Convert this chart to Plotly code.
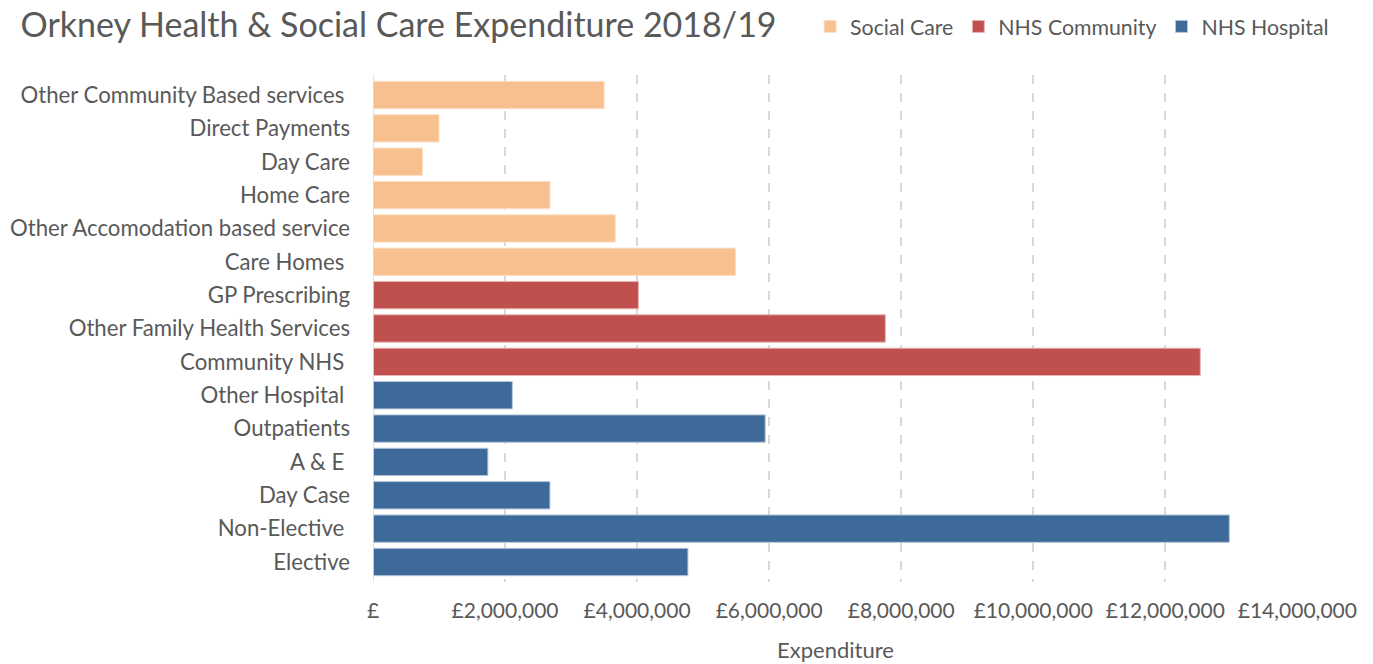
import plotly.graph_objects as go

order_bottom_to_top = ["Elective", "Non-Elective ", "Day Case", "A & E ", "Outpatients", "Other Hospital ",
                       "Community NHS ", "Other Family Health Services", "GP Prescribing",
                       "Care Homes ", "Other Accomodation based service", "Home Care", "Day Care",
                       "Direct Payments", "Other Community Based services "]

hosp_cats = ["Elective", "Non-Elective ", "Day Case", "A & E ", "Outpatients", "Other Hospital "]
hosp_vals = [4770000, 12970000, 2680000, 1740000, 5940000, 2110000]

comm_cats = ["Community NHS ", "Other Family Health Services", "GP Prescribing"]
comm_vals = [12530000, 7760000, 4020000]

soc_cats = ["Care Homes ", "Other Accomodation based service", "Home Care", "Day Care",
            "Direct Payments", "Other Community Based services "]
soc_vals = [5490000, 3670000, 2680000, 750000, 1000000, 3500000]

tick_vals = [0, 2000000, 4000000, 6000000, 8000000, 10000000, 12000000, 14000000]
tick_text = ["£", "£2,000,000", "£4,000,000", "£6,000,000", "£8,000,000", "£10,000,000", "£12,000,000", "£14,000,000"]

FONT = "Lato"
GREY = "#595959"

fig = go.Figure()
fig.add_trace(go.Bar(y=soc_cats, x=soc_vals, orientation="h", name="Social Care",
                     marker=dict(color="#F9C08F", line=dict(color="#FBE0C8", width=1))))
fig.add_trace(go.Bar(y=comm_cats, x=comm_vals, orientation="h", name="NHS Community",
                     marker=dict(color="#C0504D", line=dict(color="#E6B4B3", width=1))))
fig.add_trace(go.Bar(y=hosp_cats, x=hosp_vals, orientation="h", name="NHS Hospital",
                     marker=dict(color="#3E6A9A", line=dict(color="#B5C6DA", width=1))))

fig.update_layout(
    width=1373, height=664,
    margin=dict(l=373, r=75, t=75, b=82),
    paper_bgcolor="white", plot_bgcolor="white",
    barmode="relative", bargap=0.18,
    font=dict(family=FONT, color=GREY, size=21),
    title=dict(text="Orkney Health & Social Care Expenditure 2018/19",
               x=0.015, xanchor="left", y=0.962, yanchor="middle",
               font=dict(family=FONT, size=34, color=GREY)),
    legend=dict(orientation="h", xref="container", yref="container",
                x=0.590, xanchor="left", y=0.96, yanchor="middle",
                font=dict(family=FONT, size=21.3, color=GREY),
                traceorder="normal", itemwidth=30),
    showlegend=True,
)
fig.update_xaxes(range=[0, 14010000], tickvals=tick_vals, ticktext=tick_text,
                 showgrid=True, gridcolor="#D9D9D9", griddash="dash", gridwidth=1.5,
                 zeroline=False, showline=False, ticks="", automargin=False,
                 ticklabelstandoff=14,
                 tickfont=dict(family=FONT, size=21, color=GREY),
                 title=dict(text="Expenditure", standoff=21, font=dict(family=FONT, size=22, color=GREY)))
fig.update_yaxes(categoryorder="array", categoryarray=order_bottom_to_top,
                 showgrid=False, zeroline=False, showline=False, ticks="", automargin=False,
                 ticklabelstandoff=22, tickfont=dict(family=FONT, size=22.2, color=GREY),
                 range=[-0.6, 14.6])
fig.add_shape(type="line", xref="x", yref="paper", x0=0, x1=0, y0=0, y1=1,
              line=dict(color="#D9D9D9", width=1.5))

fig.write_html("out.html")
